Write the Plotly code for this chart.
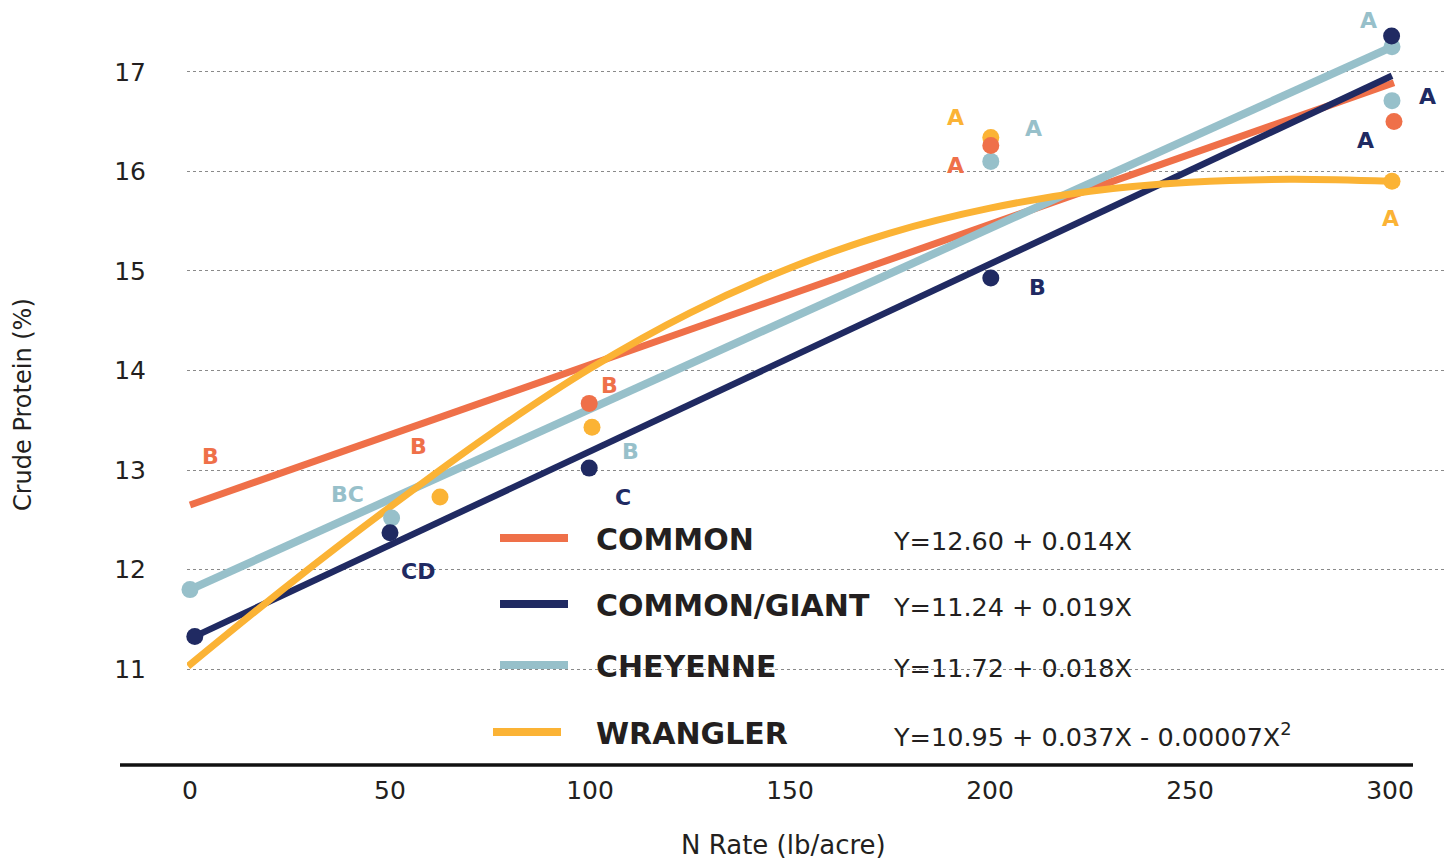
import plotly.graph_objects as go

# ---------------- data ----------------
x_ticks = [0, 50, 100, 150, 200, 250, 300]
y_ticks = [11, 12, 13, 14, 15, 16, 17]

series_names = ["COMMON", "COMMON/GIANT", "CHEYENNE", "WRANGLER"]
equations = ["Y=12.60 + 0.014X", "Y=11.24 + 0.019X", "Y=11.72 + 0.018X",
             "Y=10.95 + 0.037X - 0.00007X<sup>2</sup>"]

# fitted lines
common_line_x = [0, 301]
common_line_y = [12.65, 16.89]
giant_line_x = [1.2, 300.5]
giant_line_y = [11.33, 16.96]
cheyenne_line_x = [0, 300.5]
cheyenne_line_y = [11.80, 17.25]
wrangler_curve_x = [-0.5, 25, 50, 75, 100, 125, 150, 175, 200, 225, 250, 275, 300]
wrangler_curve_y = [11.03, 11.86, 12.63, 13.36, 14.02, 14.58, 15.03, 15.38, 15.63, 15.80, 15.89, 15.92, 15.90]

# observed means
common_pts_x = [99.8, 200.2, 301]
common_pts_y = [13.67, 16.26, 16.50]
giant_pts_x = [1.2, 50, 99.8, 200.2, 300.4]
giant_pts_y = [11.33, 12.37, 13.02, 14.93, 17.36]
cheyenne_pts_x = [0, 50.4, 200.2, 300.5, 300.5]
cheyenne_pts_y = [11.80, 12.52, 16.10, 17.25, 16.71]
wrangler_pts_x = [62.5, 100.5, 200.2, 300.5]
wrangler_pts_y = [12.73, 13.43, 16.34, 15.90]

# significance letters
common_letters = ["B", "B", "B", "A"]
giant_letters = ["CD", "C", "B", "A", "A"]
cheyenne_letters = ["BC", "B", "A", "A"]
wrangler_letters = ["A", "A"]

# ---------------- styling / positions ----------------
COL = {"common": "#EF7049", "giant": "#202A62", "cheyenne": "#97C0CA", "wrangler": "#FBB335"}
TXT = "#231F20"
FONT = "DejaVu Sans"

# letter label positions (data coords)
common_lab_pos = [(5, 13.14), (57, 13.24), (104.75, 13.85), (191.25, 16.06)]
giant_lab_pos = [(57, 11.98), (108.25, 12.73), (211.75, 14.83), (309.25, 16.75), (293.75, 16.31)]
cheyenne_lab_pos = [(39.25, 12.76), (110, 13.19), (210.75, 16.43), (294.5, 17.51)]
wrangler_lab_pos = [(191.25, 16.54), (300, 15.53)]

OFF = 8  # page body margin
W, H = 1454 - OFF, 860 - OFF
L, T = 187 - OFF, 10 - OFF
R = 0
B = H - (765 - OFF)
PW, PH = W - L - R, H - T - B


def px_x(px):
    return (px - OFF - L) / PW


def px_y(py):
    return (H - B - (py - OFF)) / PH


fig = go.Figure()

lines = [
    (common_line_x, common_line_y, COL["common"], 7, "linear"),
    (giant_line_x, giant_line_y, COL["giant"], 6.5, "linear"),
    (cheyenne_line_x, cheyenne_line_y, COL["cheyenne"], 8, "linear"),
    (wrangler_curve_x, wrangler_curve_y, COL["wrangler"], 7, "spline"),
]
for xs, ys, c, w, shp in lines:
    fig.add_trace(go.Scatter(x=xs, y=ys, mode="lines", line=dict(color=c, width=w, shape=shp),
                             showlegend=False, hoverinfo="skip"))

pts = [
    (wrangler_pts_x, wrangler_pts_y, COL["wrangler"]),
    (cheyenne_pts_x, cheyenne_pts_y, COL["cheyenne"]),
    (common_pts_x, common_pts_y, COL["common"]),
    (giant_pts_x, giant_pts_y, COL["giant"]),
]
for xs, ys, c in pts:
    fig.add_trace(go.Scatter(x=xs, y=ys, mode="markers", marker=dict(color=c, size=17),
                             cliponaxis=False, showlegend=False))

annotations = []
for letters, poss, c in [(common_letters, common_lab_pos, COL["common"]),
                         (giant_letters, giant_lab_pos, COL["giant"]),
                         (cheyenne_letters, cheyenne_lab_pos, COL["cheyenne"]),
                         (wrangler_letters, wrangler_lab_pos, COL["wrangler"])]:
    for t, (lx, ly) in zip(letters, poss):
        annotations.append(dict(x=lx, y=ly, xref="x", yref="y", text="<b>%s</b>" % t,
                                showarrow=False, xanchor="center", yanchor="middle",
                                font=dict(family=FONT, size=22, color=c)))

# legend block
leg_y = [538, 604, 665, 732]
leg_x0 = [500, 500, 500, 493]
leg_cols = [COL["common"], COL["giant"], COL["cheyenne"], COL["wrangler"]]
shapes = []
for name, eq, yy, x0, c in zip(series_names, equations, leg_y, leg_x0, leg_cols):
    shapes.append(dict(type="line", xref="paper", yref="paper", x0=px_x(x0), x1=px_x(x0 + 68),
                       y0=px_y(yy), y1=px_y(yy), line=dict(color=c, width=8)))
    annotations.append(dict(x=px_x(594), y=px_y(yy + 1), xref="paper", yref="paper",
                            text="<b>%s</b>" % name, showarrow=False, xanchor="left", yanchor="middle",
                            font=dict(family=FONT, size=30, color=TXT)))
    annotations.append(dict(x=px_x(891), y=px_y(yy + 3), xref="paper", yref="paper",
                            text=eq, showarrow=False, xanchor="left", yanchor="middle",
                            font=dict(family=FONT, size=25.5, color=TXT)))

# bottom axis line
shapes.append(dict(type="line", xref="paper", yref="paper", x0=px_x(120), x1=px_x(1413),
                   y0=0, y1=0, line=dict(color="#111111", width=3.5)))

# axis titles
annotations.append(dict(x=px_x(23), y=px_y(405), xref="paper", yref="paper", text="Crude Protein (%)",
                        textangle=-90, showarrow=False, xanchor="center", yanchor="middle",
                        font=dict(family=FONT, size=24, color=TXT)))
annotations.append(dict(x=px_x(783), y=px_y(845), xref="paper", yref="paper", text="N Rate (lb/acre)",
                        showarrow=False, xanchor="center", yanchor="middle",
                        font=dict(family=FONT, size=26, color=TXT)))

fig.update_layout(
    width=W, height=H,
    margin=dict(l=L, r=R, t=T, b=B),
    paper_bgcolor="white", plot_bgcolor="white",
    font=dict(family=FONT, color=TXT),
    shapes=shapes, annotations=annotations,
    xaxis=dict(range=[-0.75, 316], tickvals=x_ticks, showgrid=False, zeroline=False, showline=False,
               ticks="", tickfont=dict(family=FONT, size=25, color=TXT), ticklabelstandoff=8),
    yaxis=dict(range=[10.039, 17.62], tickvals=y_ticks, showgrid=True, gridcolor="#8a8a8a",
               gridwidth=1.3, griddash="3px,3px", zeroline=False, showline=False, ticks="",
               tickfont=dict(family=FONT, size=25, color=TXT), ticklabelstandoff=40),
)

fig.write_html("out.html")
